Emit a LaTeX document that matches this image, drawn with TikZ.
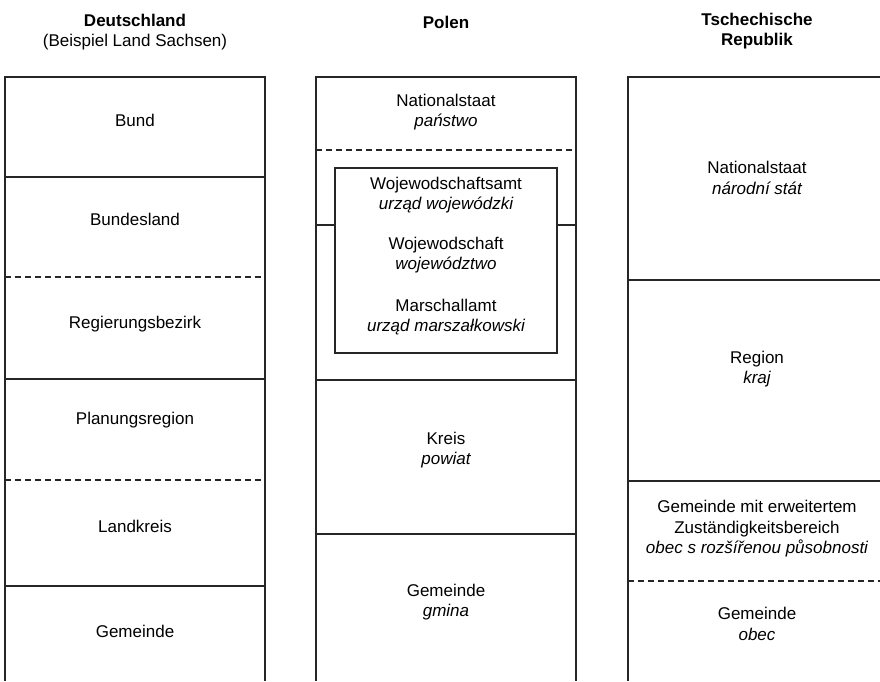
\documentclass[tikz,border=0pt]{standalone}
\usepackage{fontspec}
\setmainfont{Liberation Sans}
\begin{document}
\begin{tikzpicture}[x=1pt,y=-1pt,
  frame/.style={line width=1.1pt,draw=black!85},
  divider/.style={line width=1.1pt,draw=black!85},
  softdivider/.style={line width=1.1pt,draw=black!85,dash pattern=on 6pt off 4pt},
  label/.style={align=center,inner sep=0pt,font=\fontsize{17}{20.5}\selectfont},
  head/.style={align=center,inner sep=0pt,font=\fontsize{17}{19.5}\selectfont}]
\useasboundingbox (0,0) rectangle (880,681);

% column headings
\node[head] (hde) at (135,32) {\textbf{Deutschland}\\(Beispiel Land Sachsen)};
\node[head] (hpl) at (446,22) {\textbf{Polen}};
\node[head] (hcz) at (757,31) {\textbf{Tschechische}\\\textbf{Republik}};

% Germany column
\draw[frame] (5,681) |- (265,77) -- (265,681);
\draw[divider] (5,177) -- (265,177);
\draw[softdivider] (5,277) -- (265,277);
\draw[divider] (5,379) -- (265,379);
\draw[softdivider] (5,480) -- (265,480);
\draw[divider] (5,586) -- (265,586);
\node[label] (de1) at (135,120) {Bund};
\node[label] (de2) at (135,219) {Bundesland};
\node[label] (de3) at (135,324) {Regierungsbezirk};
\node[label] (de4) at (135,420) {Planungsregion};
\node[label] (de5) at (135,526) {Landkreis};
\node[label] (de6) at (135,631) {Gemeinde};

% Poland column
\draw[frame] (316,681) |- (576,77) -- (576,681);
\draw[softdivider] (316,150) -- (576,150);
\draw[divider] (316,225) -- (335,225);
\draw[divider] (557,225) -- (576,225);
\draw[divider] (316,380) -- (576,380);
\draw[divider] (316,534) -- (576,534);
\draw[frame] (335,168) rectangle (557,353);
\node[label] (pl1) at (446,112) {Nationalstaat\\\itshape państwo};
\node[label] (pl2) at (446,195) {Wojewodschaftsamt\\\itshape urząd wojewódzki};
\node[label] (pl3) at (446,255) {Wojewodschaft\\\itshape województwo};
\node[label] (pl4) at (446,317) {Marschallamt\\\itshape urząd marszałkowski};
\node[label] (pl5) at (446,450) {Kreis\\\itshape powiat};
\node[label] (pl6) at (446,602) {Gemeinde\\\itshape gmina};

% Czech column
\draw[frame] (628,681) |- (888,77) -- (888,681);
\draw[divider] (628,280) -- (888,280);
\draw[divider] (628,481) -- (888,481);
\draw[softdivider] (628,581) -- (888,581);
\node[label] (cz1) at (757,178) {Nationalstaat\\\itshape národní stát};
\node[label] (cz2) at (757,369) {Region\\\itshape kraj};
\node[label] (cz3) at (757,529) {Gemeinde mit erweitertem\\Zuständigkeitsbereich\\\itshape obec s rozšířenou působnosti};
\node[label] (cz4) at (757,624) {Gemeinde\\\itshape obec};
\end{tikzpicture}
\end{document}
